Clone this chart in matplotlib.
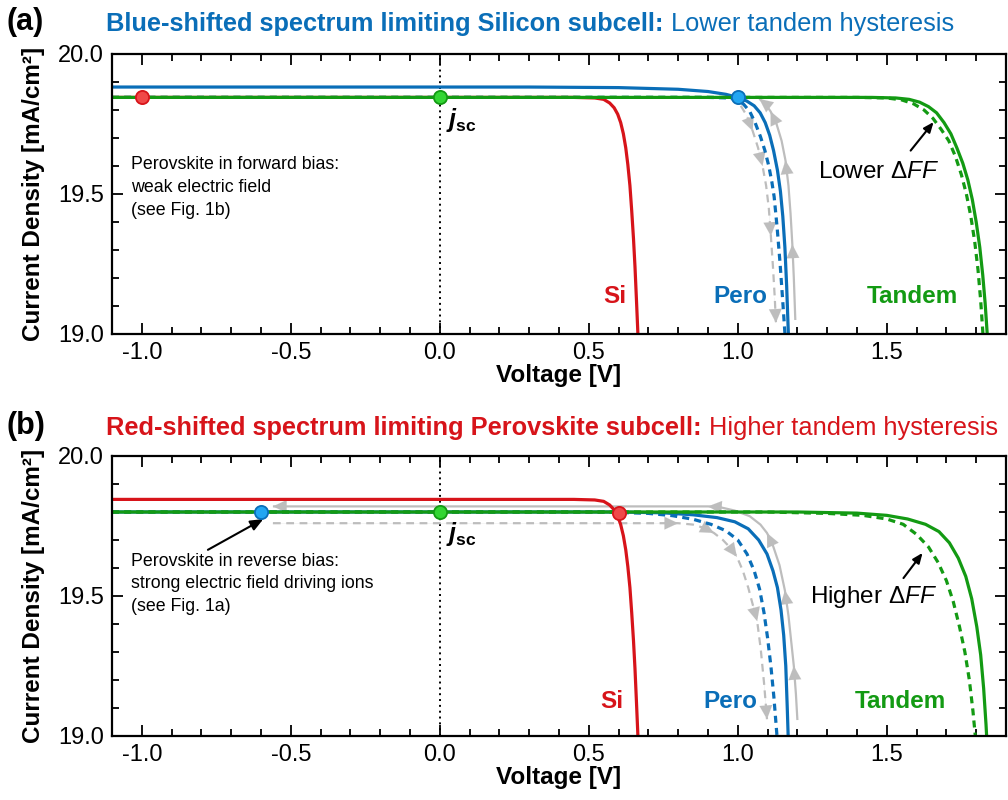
import matplotlib
matplotlib.use("Agg")
import matplotlib.pyplot as plt
from matplotlib.ticker import MultipleLocator, FormatStrFormatter

plt.rcParams['font.family'] = ['Liberation Sans', 'DejaVu Sans']
plt.rcParams['axes.unicode_minus'] = False
plt.rcParams['mathtext.fontset'] = 'custom'
plt.rcParams['mathtext.rm'] = 'Liberation Sans'
plt.rcParams['mathtext.it'] = 'Liberation Sans:italic'
plt.rcParams['mathtext.bf'] = 'Liberation Sans:bold'
plt.rcParams['mathtext.bfit'] = 'Liberation Sans:italic:bold'

# ---------------- data: panel (a) ----------------
si_v = [-1.1, 0.45, 0.52, 0.55, 0.57, 0.585, 0.597, 0.607, 0.616, 0.624, 0.631, 0.638,
        0.644, 0.650, 0.655, 0.660, 0.664, 0.667]
si_j = [19.845, 19.845, 19.843, 19.838, 19.825, 19.808, 19.785, 19.755, 19.715, 19.665,
        19.605, 19.53, 19.44, 19.34, 19.24, 19.12, 19.02, 18.94]

a_pero_v = [-1.1, 0.3, 0.6, 0.8, 0.9, 0.96, 1.0, 1.03, 1.055, 1.075, 1.092, 1.107, 1.12,
            1.133, 1.143, 1.151, 1.158, 1.164, 1.169, 1.172]
a_pero_j = [19.882, 19.882, 19.88, 19.874, 19.866, 19.856, 19.845, 19.832, 19.815, 19.79,
            19.755, 19.71, 19.655, 19.585, 19.51, 19.42, 19.31, 19.17, 19.02, 18.94]
a_pero_fwd_v = [-1.1, 0.9, 0.97, 1.0, 1.02, 1.04, 1.058, 1.076, 1.091, 1.104, 1.114, 1.122,
                1.132, 1.142, 1.150, 1.157, 1.162]
a_pero_fwd_j = [19.845, 19.845, 19.843, 19.835, 19.82, 19.795, 19.755, 19.705, 19.655, 19.60,
                19.545, 19.49, 19.38, 19.25, 19.13, 19.02, 18.94]

a_tan_v = [-1.1, 1.45, 1.53, 1.575, 1.61, 1.64, 1.667, 1.692, 1.715, 1.735, 1.755, 1.772,
           1.787, 1.800, 1.812, 1.822, 1.830, 1.837, 1.841]
a_tan_j = [19.845, 19.845, 19.843, 19.838, 19.828, 19.812, 19.79, 19.755, 19.715, 19.665,
           19.61, 19.55, 19.48, 19.40, 19.31, 19.21, 19.11, 19.00, 18.93]
a_tan_fwd_v = [-1.1, 1.40, 1.50, 1.55, 1.59, 1.625, 1.655, 1.683, 1.708, 1.730, 1.750, 1.767,
               1.782, 1.795, 1.806, 1.815, 1.822, 1.826]
a_tan_fwd_j = [19.845, 19.845, 19.843, 19.836, 19.822, 19.80, 19.77, 19.73, 19.69, 19.635,
               19.57, 19.50, 19.42, 19.33, 19.23, 19.12, 19.01, 18.93]

a_scan_fwd_v = [1.010, 1.030, 1.050, 1.068, 1.083, 1.095, 1.104, 1.111, 1.118, 1.124, 1.128]
a_scan_fwd_j = [19.815, 19.78, 19.725, 19.665, 19.60, 19.53, 19.45, 19.35, 19.24, 19.13, 19.04]
a_scan_rev_v = [1.193, 1.188, 1.183, 1.177, 1.170, 1.160, 1.147, 1.130, 1.110, 1.090, 1.072]
a_scan_rev_j = [19.05, 19.20, 19.32, 19.43, 19.53, 19.62, 19.69, 19.75, 19.795, 19.825, 19.84]

a_mark_v = [-1.0, 0.0, 1.0]
a_mark_j = [19.845, 19.845, 19.845]

# ---------------- data: panel (b) ----------------
b_pero_v = [-1.1, 0.6, 0.75, 0.85, 0.93, 0.99, 1.035, 1.07, 1.098, 1.118, 1.133, 1.145,
            1.154, 1.161, 1.166, 1.169, 1.171]
b_pero_j = [19.80, 19.80, 19.797, 19.79, 19.78, 19.765, 19.74, 19.70, 19.65, 19.59, 19.53,
            19.45, 19.36, 19.25, 19.10, 19.00, 18.94]
b_pero_fwd_v = [-1.1, 0.55, 0.70, 0.78, 0.85, 0.91, 0.96, 1.00, 1.031, 1.055, 1.073, 1.088,
                1.100, 1.111, 1.121, 1.130, 1.136]
b_pero_fwd_j = [19.80, 19.80, 19.795, 19.787, 19.774, 19.756, 19.733, 19.70, 19.65, 19.59,
                19.525, 19.44, 19.35, 19.25, 19.14, 19.02, 18.94]

b_tan_v = [-1.1, 1.2, 1.40, 1.50, 1.57, 1.63, 1.675, 1.71, 1.74, 1.765, 1.785, 1.802, 1.815,
           1.825, 1.833, 1.838]
b_tan_j = [19.80, 19.80, 19.796, 19.788, 19.775, 19.756, 19.73, 19.69, 19.635, 19.57, 19.49,
           19.39, 19.29, 19.17, 19.04, 18.94]
b_tan_fwd_v = [-1.1, 1.1, 1.30, 1.42, 1.50, 1.555, 1.60, 1.64, 1.672, 1.700, 1.723, 1.744,
               1.762, 1.777, 1.789, 1.797, 1.801]
b_tan_fwd_j = [19.80, 19.80, 19.795, 19.788, 19.775, 19.756, 19.72, 19.675, 19.62, 19.555,
               19.48, 19.39, 19.30, 19.20, 19.09, 19.00, 18.94]

b_scan_fwd_v = [-0.56, 0.80, 0.85, 0.89, 0.92, 0.95, 0.975, 0.997, 1.017, 1.035, 1.050, 1.065,
                1.077, 1.088, 1.098]
b_scan_fwd_j = [19.76, 19.76, 19.755, 19.742, 19.725, 19.70, 19.672, 19.64, 19.59, 19.53,
                19.47, 19.41, 19.31, 19.19, 19.06]
b_scan_rev_v = [1.200, 1.195, 1.188, 1.180, 1.170, 1.158, 1.140, 1.118, 1.098, 1.076, 1.040,
                0.990, 0.941, 0.90, -0.56]
b_scan_rev_j = [19.057, 19.15, 19.25, 19.33, 19.43, 19.52, 19.61, 19.68, 19.725, 19.755,
                19.785, 19.805, 19.817, 19.82, 19.82]

b_mark_v = [-0.6, 0.0, 0.6]
b_mark_j = [19.80, 19.80, 19.795]

x_ticks = [-1.0, -0.5, 0.0, 0.5, 1.0, 1.5]
y_ticks = [19.0, 19.5, 20.0]

# ---------------- style ----------------
RED = '#D7141A'
BLUE = '#0A6EB8'
GREEN = '#139A13'
GRAY = '#BDBDBD'
RED_F = '#F04848'
BLUE_F = '#22A6F2'
GREEN_F = '#33D633'

fig = plt.figure(figsize=(10.08, 8), dpi=100)
W, H = 1008.0, 800.0
axa = fig.add_axes([112 / W, 1 - 334 / H, 894 / W, 280 / H])
axb = fig.add_axes([112 / W, 1 - 736 / H, 894 / W, 280 / H])


def style_axes(ax):
    ax.set_xlim(-1.1, 1.9)
    ax.set_ylim(19.0, 20.0)
    ax.set_xticks(x_ticks)
    ax.set_yticks(y_ticks)
    ax.xaxis.set_minor_locator(MultipleLocator(0.1))
    ax.yaxis.set_minor_locator(MultipleLocator(0.1))
    ax.xaxis.set_major_formatter(FormatStrFormatter('%.1f'))
    ax.yaxis.set_major_formatter(FormatStrFormatter('%.1f'))
    ax.tick_params(which='both', direction='in', top=True, right=True, width=1.3)
    ax.tick_params(which='major', length=8, labelsize=17, pad=6)
    ax.tick_params(which='minor', length=5)
    for s in ax.spines.values():
        s.set_linewidth(1.6)
    ax.set_xlabel('Voltage [V]', fontsize=17.5, fontweight='bold', labelpad=0)
    ax.set_ylabel('Current Density [mA/cm²]', fontsize=17.5, fontweight='bold')
    ax.yaxis.set_label_coords(-0.075, 0.5)
    ax.axvline(0.0, color='black', ls=(0, (1, 2)), lw=1.4, zorder=1)


def scan_arrows(ax, v, j, idx, dash):
    ax.plot(v, j, color=GRAY, lw=1.6, ls=(0, (3.5, 2.5)) if dash else '-', zorder=1.5,
            solid_capstyle='butt')
    for i in idx:
        ax.annotate('', xy=(v[i], j[i]), xytext=(v[i - 1], j[i - 1]),
                    arrowprops=dict(arrowstyle='-|>,head_length=0.75,head_width=0.35',
                                    mutation_scale=13, color=GRAY, lw=0.1,
                                    shrinkA=0, shrinkB=0),
                    zorder=1.6)


DASH = (0, (2.2, 1.6))
ARW = dict(arrowstyle='-|>,head_length=0.6,head_width=0.25', color='black', lw=1.5,
           shrinkA=0, shrinkB=0)

for ax in (axa, axb):
    style_axes(ax)

# ---- panel (a) ----
scan_arrows(axa, a_scan_fwd_v, a_scan_fwd_j, [2, 4, 7, 10], True)
scan_arrows(axa, a_scan_rev_v, a_scan_rev_j, [2, 5, 8, 10], False)
axa.plot(si_v, si_j, color=RED, lw=2.3, zorder=2)
axa.plot(a_pero_fwd_v, a_pero_fwd_j, color=BLUE, lw=2.3, ls=DASH, zorder=2.1)
axa.plot(a_pero_v, a_pero_j, color=BLUE, lw=2.3, zorder=2.2)
axa.plot(a_tan_fwd_v, a_tan_fwd_j, color=GREEN, lw=2.3, ls=DASH, zorder=2.3)
axa.plot(a_tan_v, a_tan_j, color=GREEN, lw=2.3, zorder=2.4)
for v, j, fc, ec in zip(a_mark_v, a_mark_j, [RED_F, GREEN_F, BLUE_F], [RED, GREEN, BLUE]):
    axa.plot([v], [j], 'o', ms=9.5, mfc=fc, mec=ec, mew=1.3, zorder=5)

axa.text(0.022, 19.815, r'$\mathbfit{j}_{\mathbf{sc}}$', fontsize=18, ha='left', va='top')
axa.text(-1.035, 19.635, 'Perovskite in forward bias:\nweak electric field\n(see Fig. 1b)',
         fontsize=12.8, ha='left', va='top', linespacing=1.45)
axa.text(1.472, 19.58, 'Lower Δ$FF$', fontsize=17.5, ha='center', va='center')
axa.annotate('', xy=(1.657, 19.757), xytext=(1.58, 19.655), arrowprops=ARW)
axa.text(0.625, 19.135, 'Si', color=RED, fontsize=17.5, fontweight='bold', ha='right', va='center')
axa.text(1.1, 19.135, 'Pero', color=BLUE, fontsize=17.5, fontweight='bold', ha='right', va='center')
axa.text(1.74, 19.135, 'Tandem', color=GREEN, fontsize=17.5, fontweight='bold', ha='right', va='center')

# ---- panel (b) ----
scan_arrows(axb, b_scan_fwd_v, b_scan_fwd_j, [1, 4, 7, 11, 14], True)
scan_arrows(axb, b_scan_rev_v, b_scan_rev_j, [2, 5, 8, 13, 14], False)
axb.plot(si_v, si_j, color=RED, lw=2.3, zorder=2)
axb.plot(b_pero_fwd_v, b_pero_fwd_j, color=BLUE, lw=2.3, ls=DASH, zorder=2.1)
axb.plot(b_pero_v, b_pero_j, color=BLUE, lw=2.3, zorder=2.2)
axb.plot(b_tan_fwd_v, b_tan_fwd_j, color=GREEN, lw=2.3, ls=DASH, zorder=2.3)
axb.plot(b_tan_v, b_tan_j, color=GREEN, lw=2.3, zorder=2.4)
for v, j, fc, ec in zip(b_mark_v, b_mark_j, [BLUE_F, GREEN_F, RED_F], [BLUE, GREEN, RED]):
    axb.plot([v], [j], 'o', ms=9.5, mfc=fc, mec=ec, mew=1.3, zorder=5)

axb.text(0.022, 19.77, r'$\mathbfit{j}_{\mathbf{sc}}$', fontsize=18, ha='left', va='top')
axb.annotate('Perovskite in reverse bias:\nstrong electric field driving ions\n(see Fig. 1a)',
             xy=(-0.592, 19.775), xytext=(-1.035, 19.655), fontsize=12.8, ha='left', va='top',
             linespacing=1.45,
             arrowprops=dict(arrowstyle='-|>,head_length=0.6,head_width=0.25', color='black',
                             lw=1.5, shrinkA=0, shrinkB=0, relpos=(0.295, 1.0)))
axb.text(1.456, 19.496, 'Higher Δ$FF$', fontsize=17.5, ha='center', va='center')
axb.annotate('', xy=(1.62, 19.654), xytext=(1.556, 19.564), arrowprops=ARW)
axb.text(0.615, 19.125, 'Si', color=RED, fontsize=17.5, fontweight='bold', ha='right', va='center')
axb.text(1.065, 19.125, 'Pero', color=BLUE, fontsize=17.5, fontweight='bold', ha='right', va='center')
axb.text(1.70, 19.125, 'Tandem', color=GREEN, fontsize=17.5, fontweight='bold', ha='right', va='center')

# ---- titles ----
fig.text(7 / W, 1 - 22 / H, '(a)', fontsize=22, fontweight='bold', ha='left', va='center')
fig.text(7 / W, 1 - 426 / H, '(b)', fontsize=22, fontweight='bold', ha='left', va='center')

TFS = 18.3
ta = fig.text(106 / W, 1 - 31 / H, 'Blue-shifted spectrum limiting Silicon subcell:',
              fontsize=TFS, fontweight='bold', color=BLUE, ha='left', va='baseline')
axa.annotate(' Lower tandem hysteresis', xy=(1, 0), xycoords=ta, fontsize=TFS, color=BLUE,
             ha='left', va='bottom', annotation_clip=False)
tb = fig.text(106 / W, 1 - 435 / H, 'Red-shifted spectrum limiting Perovskite subcell:',
              fontsize=TFS, fontweight='bold', color=RED, ha='left', va='baseline')
axb.annotate(' Higher tandem hysteresis', xy=(1, 0), xycoords=tb, fontsize=TFS, color=RED,
             ha='left', va='bottom', annotation_clip=False)

fig.savefig('out.png', dpi=100)
